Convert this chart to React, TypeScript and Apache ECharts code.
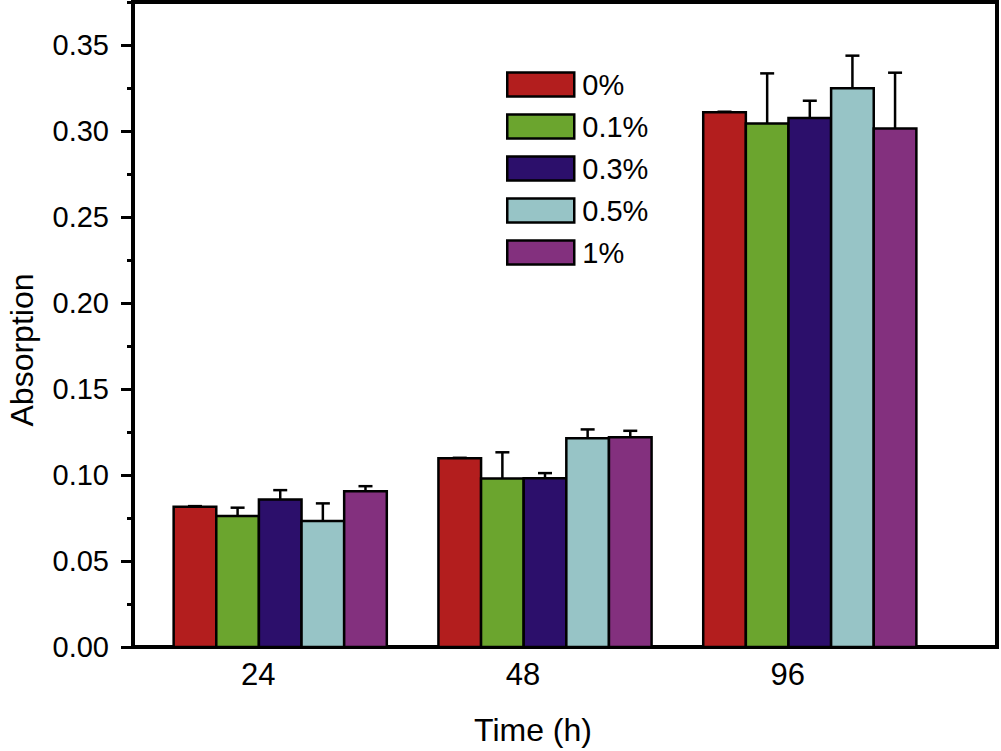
import React, { useEffect, useRef } from "react";
import * as echarts from "echarts";

const timeLabels = ["24", "48", "96"];
const timePositions = [1, 2, 3];
const seriesNames = ["0%", "0.1%", "0.3%", "0.5%", "1%"];
const seriesColors = ["#B31E1E", "#6BA52E", "#2C0F6B", "#97C4C6", "#83307E"];
const values0 = [0.0816, 0.1097, 0.3109];
const values01 = [0.0762, 0.0979, 0.3043];
const values03 = [0.0857, 0.0981, 0.3076];
const values05 = [0.0733, 0.1213, 0.3248];
const values1 = [0.0905, 0.1219, 0.3014];
const errors0 = [0.0003, 0.0003, 0.0003];
const errors01 = [0.0048, 0.0153, 0.0292];
const errors03 = [0.0055, 0.003, 0.01];
const errors05 = [0.0102, 0.0052, 0.019];
const errors1 = [0.003, 0.0038, 0.0325];
const yMajorTicks = [0, 0.05, 0.1, 0.15, 0.2, 0.25, 0.3, 0.35];

const allValues = [values0, values01, values03, values05, values1];
const allErrors = [errors0, errors01, errors03, errors05, errors1];

const FONT = "'Liberation Sans', Arial, sans-serif";
const BAR_W = 0.161;
const GROUP_SHIFT = 0.083;

export default function App() {
  const ref = useRef<HTMLDivElement>(null);
  useEffect(() => {
    if (!ref.current) return;
    const chart = echarts.init(ref.current, undefined, { renderer: "svg" });
    const series = seriesNames.map((name, k) => ({
      name,
      type: "custom",
      itemStyle: { color: seriesColors[k] },
      encode: { x: 0, y: 1 },
      data: timePositions.map((p, i) => [p, allValues[k][i], allErrors[k][i]]),
      renderItem: (params: any, api: any) => {
        const x = api.value(0);
        const y = api.value(1);
        const e = api.value(2);
        const cx = x + GROUP_SHIFT + (k - 2) * BAR_W;
        const tl = api.coord([cx - BAR_W / 2, y]);
        const br = api.coord([cx + BAR_W / 2, 0]);
        const top = api.coord([cx, y + e]);
        const cap = 7;
        return {
          type: "group",
          children: [
            {
              type: "rect",
              shape: { x: tl[0], y: tl[1], width: br[0] - tl[0], height: br[1] - tl[1] },
              style: { fill: seriesColors[k], stroke: "#000", lineWidth: 2.5 },
            },
            {
              type: "line",
              shape: { x1: top[0], y1: tl[1], x2: top[0], y2: top[1] },
              style: { stroke: "#000", lineWidth: 2.5 },
            },
            {
              type: "line",
              shape: { x1: top[0] - cap, y1: top[1], x2: top[0] + cap, y2: top[1] },
              style: { stroke: "#000", lineWidth: 2.5 },
            },
          ],
        };
      },
    }));
    chart.setOption({
      animation: false,
      backgroundColor: "#fff",
      grid: {
        left: 133,
        right: 4,
        top: 2,
        bottom: 104,
        show: true,
        borderColor: "#000",
        borderWidth: 4,
        containLabel: false,
      },
      legend: {
        orient: "vertical",
        left: 501,
        top: 65,
        itemWidth: 67,
        itemHeight: 24,
        itemGap: 13,
        icon: "rect",
        selectedMode: false,
        textStyle: { fontSize: 29, color: "#000", fontFamily: FONT, padding: [0, 0, 0, 3] },
        data: seriesNames.map((name, k) => ({
          name,
          itemStyle: { color: seriesColors[k], borderColor: "#000", borderWidth: 2.5 },
        })),
      },
      xAxis: {
        type: "value",
        min: 0.527,
        max: 3.79,
        axisLine: { show: true, lineStyle: { color: "#000", width: 4 } },
        axisTick: { show: false },
        splitLine: { show: false },
        axisLabel: {
          customValues: timePositions,
          formatter: (v: number) => {
            const idx = timePositions.indexOf(Math.round(v));
            return idx >= 0 ? timeLabels[idx] : "";
          },
          fontSize: 31,
          color: "#000",
          fontFamily: FONT,
          margin: 12,
        },
      },
      yAxis: [
        {
          type: "value",
          min: 0,
          max: 0.375,
          interval: 0.025,
          axisLine: { show: true, lineStyle: { color: "#000", width: 4 } },
          axisTick: {
            show: true,
            customValues: yMajorTicks,
            length: 12,
            lineStyle: { color: "#000", width: 3 },
          },
          splitLine: { show: false },
          axisLabel: {
            customValues: yMajorTicks,
            formatter: (v: number) => v.toFixed(2),
            fontSize: 29,
            color: "#000",
            fontFamily: FONT,
            margin: 24,
          },
        },
        {
          type: "value",
          min: 0,
          max: 0.375,
          interval: 0.025,
          position: "left",
          axisLine: { show: false },
          axisTick: { show: true, length: 6, lineStyle: { color: "#000", width: 3 } },
          axisLabel: { show: false },
          splitLine: { show: false },
        },
      ],
      graphic: [
        {
          type: "text",
          x: 533,
          y: 730,
          style: {
            text: "Time (h)",
            font: `32px ${FONT}`,
            fill: "#000",
            align: "center",
            verticalAlign: "middle",
          },
        },
        {
          type: "text",
          x: 22,
          y: 350,
          rotation: Math.PI / 2,
          style: {
            text: "Absorption",
            font: `32px ${FONT}`,
            fill: "#000",
            align: "center",
            verticalAlign: "middle",
          },
        },
      ],
      series,
    });
    return () => chart.dispose();
  }, []);
  return (
    <div
      ref={ref}
      style={{ position: "fixed", left: 0, top: 0, width: 1001, height: 751, background: "#fff" }}
    />
  );
}
